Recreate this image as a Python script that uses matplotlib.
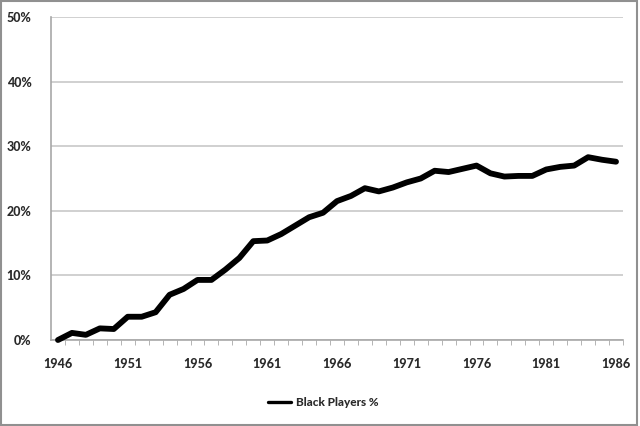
import matplotlib
matplotlib.use("Agg")
import matplotlib.pyplot as plt
from matplotlib.ticker import FixedLocator, FuncFormatter
from matplotlib.patches import Rectangle

plt.rcParams["font.family"] = ["Lato", "DejaVu Sans"]

years = list(range(1946, 1987))
black_pct = [0.0, 1.1, 0.8, 1.8, 1.7, 3.6, 3.6, 4.3, 7.0, 7.9,
             9.3, 9.3, 10.9, 12.7, 15.3, 15.4, 16.4, 17.7, 19.0, 19.7,
             21.5, 22.3, 23.5, 23.0, 23.6, 24.4, 25.0, 26.2, 26.0, 26.5,
             27.0, 25.8, 25.3, 25.4, 25.4, 26.4, 26.8, 27.0, 28.3, 27.9, 27.6]
y_ticks = [0, 10, 20, 30, 40, 50]
x_labels = [1946, 1951, 1956, 1961, 1966, 1971, 1976, 1981, 1986]
series_name = "Black Players %"

fig = plt.figure(figsize=(6.4, 4.26), dpi=100)
ax = fig.add_axes([51/640, 1-340/426, (623-51)/640, (340-17)/426])

ax.plot(years, black_pct, color="black", lw=4.2, solid_joinstyle="round",
        solid_capstyle="round", label=series_name, zorder=3, clip_on=False)

ax.set_xlim(years[0]-0.5, years[-1]+0.5)
ax.set_ylim(0, 50)
ax.set_yticks(y_ticks)
ax.yaxis.set_major_formatter(FuncFormatter(lambda v, p: f"{int(v)}%"))
ax.grid(axis="y", color="#c8c8c8", lw=1.2)
ax.set_axisbelow(True)

ax.set_xticks(x_labels)
ax.xaxis.set_minor_locator(FixedLocator([y + 0.5 for y in years[:-1]] + [years[-1]+0.5]))
ax.tick_params(axis="x", which="major", length=0, pad=13)
ax.tick_params(axis="x", which="minor", length=3.5, color="#a8a8a8", direction="out")
ax.tick_params(axis="y", length=0, pad=14)

for lab in ax.get_xticklabels() + ax.get_yticklabels():
    lab.set_fontweight("black")
    lab.set_fontsize(9)
    lab.set_color("#2a2a2a")

for s in ["top", "right"]:
    ax.spines[s].set_visible(False)
for s in ["left", "bottom"]:
    ax.spines[s].set_color("#a8a8a8")
    ax.spines[s].set_linewidth(1.2)

leg = fig.legend(loc="center", bbox_to_anchor=(323/640, 1-403/426), frameon=False,
                 prop={"weight": "black", "size": 8.5}, handlelength=2.0,
                 handletextpad=0.4)
for line in leg.get_lines():
    line.set_linewidth(2.4)
for t in leg.get_texts():
    t.set_color("#2a2a2a")

fig.patches.append(Rectangle((0.002, 0.003), 0.994, 0.994, transform=fig.transFigure,
                             fill=False, edgecolor="#909090", lw=1.5))

fig.savefig("out.png", dpi=100)
